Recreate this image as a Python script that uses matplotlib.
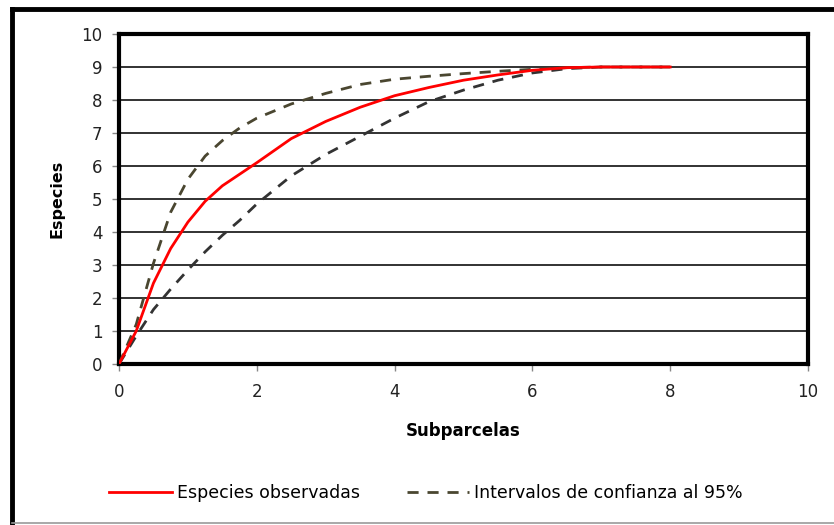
import matplotlib.pyplot as plt
from matplotlib.lines import Line2D

# Subparcelas (x) and species counts
subparcelas = [0, 0.25, 0.5, 0.75, 1, 1.25, 1.5, 1.75, 2, 2.5, 3, 3.5, 4, 4.5, 5, 5.5, 6, 6.5, 7, 7.5, 8]
observadas = [0, 1.0, 2.45, 3.5, 4.3, 4.93, 5.4, 5.75, 6.1, 6.83, 7.35, 7.78, 8.13, 8.38, 8.6,
              8.76, 8.9, 8.98, 9.0, 9.0, 9.0]
ic_superior = [0, 1.2, 3.05, 4.6, 5.6, 6.3, 6.77, 7.15, 7.45, 7.88, 8.2, 8.47, 8.63, 8.72, 8.8,
               8.87, 8.93, 8.98, 9.0, 9.0, 9.0]
ic_inferior = [0, 0.85, 1.65, 2.27, 2.85, 3.4, 3.9, 4.35, 4.85, 5.7, 6.35, 6.9, 7.45, 7.95, 8.3,
               8.6, 8.82, 8.95, 9.0, 9.0, 9.0]

W, H = 834, 525
fig = plt.figure(figsize=(W / 100, H / 100), dpi=100)
plt.rcParams['font.family'] = ['DejaVu Sans']

ax = fig.add_axes([119 / W, 1 - 364 / H, 689 / W, 330 / H])

olive = '#4a4630'
ax.plot(subparcelas, ic_inferior, color='#333333', lw=2.0, dashes=(4, 3.2), zorder=3)
ax.plot(subparcelas, ic_superior, color=olive, lw=2.0, dashes=(4, 3.2), zorder=3,
        label='Intervalos de confianza al 95%')
ax.plot(subparcelas, observadas, color='#ff0000', lw=2.0, zorder=4,
        label='Especies observadas')

ax.set_xlim(0, 10)
ax.set_ylim(0, 10)
ax.set_xticks(range(0, 11, 2))
ax.set_yticks(range(0, 11))
ax.grid(axis='y', color='#222222', lw=1.3)
ax.set_axisbelow(True)
ax.tick_params(colors='#888888', labelcolor='#222222', labelsize=12, length=5, width=1)
ax.tick_params(axis='x', pad=9)
ax.tick_params(axis='y', pad=7)
for s in ax.spines.values():
    s.set_linewidth(3)
    s.set_color('black')

ax.set_xlabel('Subparcelas', fontsize=12, fontweight='bold', labelpad=15)
ax.set_ylabel('Especies', fontsize=11.5, fontweight='bold', labelpad=12)

handles, labels = ax.get_legend_handles_labels()
leg = fig.legend(handles[::-1], labels[::-1], loc='center', bbox_to_anchor=(426 / W, 1 - 493 / H),
                 ncol=2, frameon=False, fontsize=12.5, handlelength=3.6, handletextpad=0.3,
                 columnspacing=2.7)

# outer chart frame (left/top thick black, bottom thin gray)
fig.add_artist(Line2D([12 / W, 12 / W], [1 - 9 / H, 1 - 523 / H], color='black', lw=3.5))
fig.add_artist(Line2D([12 / W, 1], [1 - 9 / H, 1 - 9 / H], color='black', lw=3.5))
fig.add_artist(Line2D([12 / W, 1], [1 - 523 / H, 1 - 523 / H], color='#999999', lw=1.2))

fig.savefig('out.png', dpi=100)
